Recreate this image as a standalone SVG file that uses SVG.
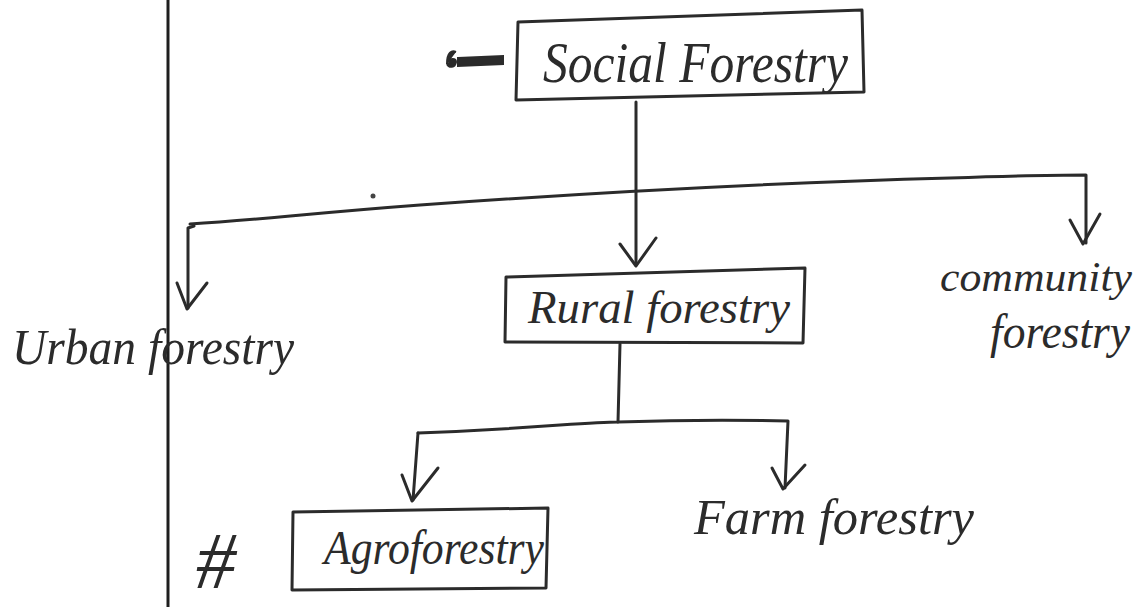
<svg xmlns="http://www.w3.org/2000/svg" width="1136" height="607" viewBox="0 0 1136 607">
<style>
.ln{fill:none;stroke:#2b2b2b;stroke-width:3;stroke-linecap:round;stroke-linejoin:round}
.bx{fill:none;stroke:#2b2b2b;stroke-width:3;stroke-linejoin:round}
.t{font-family:"Liberation Serif",serif;font-style:italic;fill:#2b2b2b}
</style>
<rect width="1136" height="607" fill="#ffffff"/>
<line x1="168" y1="0" x2="168" y2="607" stroke="#1e1e1e" stroke-width="3"/>
<circle cx="373" cy="196" r="2.5" fill="#444"/>
<g id="connectors">
<path class="ln" d="M636 102 L636 265"/>
<path class="ln" d="M620 244 L636 266 L656 238"/>
<path class="ln" d="M192 224 L190 224 C260 220 300 214 420 205 C600 192 800 182 950 178 C1010 176 1050 175 1086 175 L1086 243"/>
<path class="ln" d="M1070 220 L1083 244 L1100 214"/>
<path class="ln" d="M194 226 L188 228 L188 308"/>
<path class="ln" d="M177 283 L187 309 L207 283"/>
<path class="ln" d="M620 344 L618 422"/>
<path class="ln" d="M418 433 C470 431 520 428 560 425 C590 423 605 422 618 422 C680 420 740 420 788 421 L785 488"/>
<path class="ln" d="M418 433 L413 500"/>
<path class="ln" d="M402 475 L412 501 L438 468"/>
<path class="ln" d="M772 468 L783 489 L805 465"/>
</g>
<g id="social">
<path class="bx" d="M518 22 L862 10 L864 92 L516 100 Z"/>
<path d="M447 64 C447 52 452 50 456 52 M447 64 C449 68 455 68 456 62 C456 58 450 58 448 62 M458 58 L503 56 L503 64 L458 66 Z" fill="#2b2b2b" stroke="#2b2b2b" stroke-width="2"/>
<text class="t" x="543" y="82" font-size="56" textLength="305" lengthAdjust="spacingAndGlyphs">Social Forestry</text>
</g>
<g id="rural">
<path class="bx" d="M506 277 L805 268 L803 343 L505 342 Z"/>
<text class="t" x="528" y="323" font-size="46" textLength="262" lengthAdjust="spacingAndGlyphs">Rural forestry</text>
</g>
<g id="urban">
<text class="t" x="12" y="364" font-size="50" textLength="282" lengthAdjust="spacingAndGlyphs">Urban forestry</text>
</g>
<g id="community">
<text class="t" x="940" y="291" font-size="42" textLength="192" lengthAdjust="spacingAndGlyphs">community</text>
<text class="t" x="990" y="348" font-size="48" textLength="140" lengthAdjust="spacingAndGlyphs">forestry</text>
</g>
<g id="agro">
<path class="bx" d="M293 512 L548 508 L546 588 L292 590 Z"/>
<text class="t" x="196" y="588" font-size="80">#</text>
<text class="t" x="324" y="564" font-size="48" textLength="220" lengthAdjust="spacingAndGlyphs">Agroforestry</text>
</g>
<g id="farm">
<text class="t" x="694" y="534" font-size="50" textLength="280" lengthAdjust="spacingAndGlyphs">Farm forestry</text>
</g>
</svg>
